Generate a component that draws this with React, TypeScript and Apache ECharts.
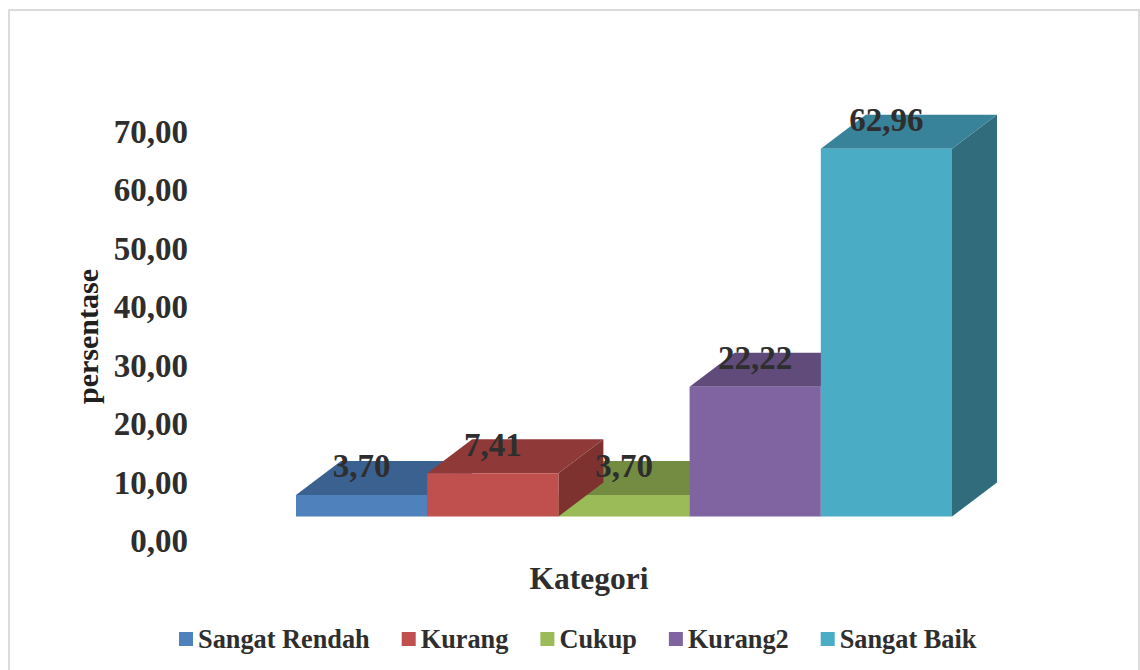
import React, { useEffect, useRef } from "react";
import * as echarts from "echarts";

const categories = ["Sangat Rendah", "Kurang", "Cukup", "Kurang2", "Sangat Baik"];
const seriesValues = [3.7, 7.41, 3.7, 22.22, 62.96];
const dataLabels = ["3,70", "7,41", "3,70", "22,22", "62,96"];
const frontColors = ["#4F81BD", "#C0504D", "#9BBB59", "#8064A2", "#4BACC6"];
const topColors = ["#3B6190", "#8F3A38", "#748C42", "#604B7A", "#38829A"];
const sideColors = ["#325379", "#7D3230", "#637A39", "#523F69", "#316C7D"];
const stackOrder = [2, 4, 3, 5, 6];

const FONT = '"Liberation Serif", "Times New Roman", serif';
const TEXT = "#2e2e2e";
const DEPTH_X = 45;
const DEPTH_Y = 34;
const FLOOR_SHIFT = 24.5;

export default function App() {
  const ref = useRef<HTMLDivElement>(null);

  useEffect(() => {
    document.body.style.margin = "0";
    const chart = echarts.init(ref.current!, undefined, { renderer: "svg" });

    const barSeries = categories.map((name, i) => ({
      type: "custom",
      name,
      z: stackOrder[i],
      itemStyle: { color: frontColors[i] },
      encode: { x: 0, y: 1 },
      data: [[name, seriesValues[i]]],
      renderItem: (_p: any, api: any) => {
        const cat = api.value(0);
        const val = api.value(1);
        const w = api.size([1, 0])[0];
        const top = api.coord([cat, val]);
        const base = api.coord([cat, 0]);
        const x0 = top[0] - w / 2;
        const x1 = top[0] + w / 2;
        const y0 = top[1] - FLOOR_SHIFT;
        const y1 = base[1] - FLOOR_SHIFT;
        return {
          type: "group",
          children: [
            {
              type: "polygon",
              shape: { points: [[x1, y0], [x1 + DEPTH_X, y0 - DEPTH_Y], [x1 + DEPTH_X, y1 - DEPTH_Y], [x1, y1]] },
              style: { fill: sideColors[i] },
            },
            {
              type: "polygon",
              shape: { points: [[x0, y0], [x0 + DEPTH_X, y0 - DEPTH_Y], [x1 + DEPTH_X, y0 - DEPTH_Y], [x1, y0]] },
              style: { fill: topColors[i] },
            },
            {
              type: "rect",
              shape: { x: x0, y: y0, width: w, height: y1 - y0 },
              style: { fill: frontColors[i] },
            },
          ],
        };
      },
    }));

    const labelSeries = {
      type: "scatter",
      name: "labels",
      z: 10,
      symbolSize: 0,
      silent: true,
      itemStyle: { opacity: 1 },
      data: categories.map((c, i) => [c, seriesValues[i]]),
      label: {
        show: true,
        position: "inside",
        offset: [0, -53],
        opacity: 1,
        formatter: (p: any) => dataLabels[p.dataIndex],
        fontFamily: FONT,
        fontWeight: "bold",
        fontSize: 33,
        color: TEXT,
      },
    };

    chart.setOption({
      animation: false,
      backgroundColor: "#ffffff",
      grid: { left: 296, width: 656, top: 132, height: 409 },
      legend: {
        data: categories,
        left: 174,
        top: 621,
        itemWidth: 14,
        itemHeight: 14,
        itemGap: 32,
        icon: "rect",
        selectedMode: false,
        textStyle: { fontFamily: FONT, fontWeight: "bold", fontSize: 26.3, color: TEXT },
      },
      xAxis: {
        type: "category",
        data: categories,
        axisLine: { show: false },
        axisTick: { show: false },
        axisLabel: { show: false },
        name: "Kategori",
        nameLocation: "middle",
        nameGap: 21,
        nameTextStyle: { fontFamily: FONT, fontWeight: "bold", fontSize: 31.5, color: TEXT, padding: [0, 70, 0, 0] },
      },
      yAxis: {
        type: "value",
        min: 0,
        max: 70,
        interval: 10,
        splitLine: { show: false },
        axisLine: { show: false },
        axisTick: { show: false },
        axisLabel: {
          margin: 108,
          formatter: (v: number) => v.toFixed(2).replace(".", ","),
          fontFamily: FONT,
          fontWeight: "bold",
          fontSize: 33,
          color: TEXT,
        },
        name: "persentase",
        nameLocation: "middle",
        nameGap: 192,
        nameRotate: 90,
        nameTextStyle: { fontFamily: FONT, fontWeight: "bold", fontSize: 30, color: "#202020" },
      },
      graphic: [
        {
          type: "rect",
          silent: true,
          z: -1,
          shape: { x: 9, y: 10, width: 1130, height: 700 },
          style: { fill: "none", stroke: "#dcdcdc", lineWidth: 2 },
        },
      ],
      series: [...barSeries, labelSeries],
    });

    return () => chart.dispose();
  }, []);

  return <div ref={ref} style={{ position: "absolute", left: 0, top: 0, width: 1140, height: 670 }} />;
}
